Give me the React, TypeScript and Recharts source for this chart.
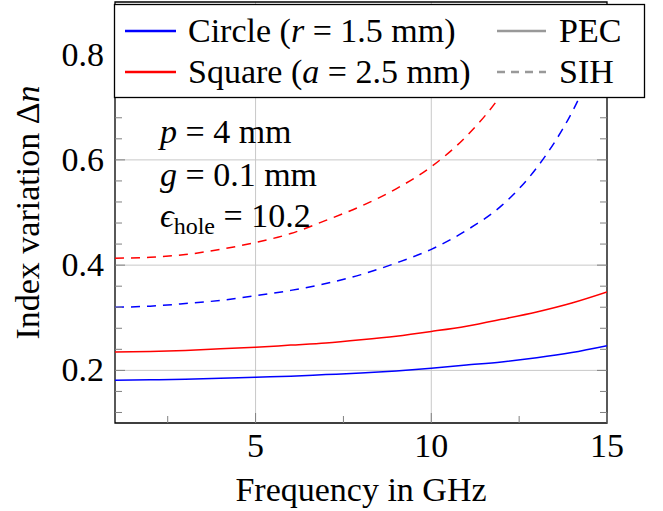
import React from "react";
import {
  CartesianGrid,
  Line,
  LineChart,
  ReferenceArea,
  XAxis,
  YAxis,
} from "recharts";

const freq = [1, 2, 3, 4, 5, 6, 7, 8, 9, 10, 11, 12, 13, 14, 15];
const circlePec = [0.181, 0.182, 0.183, 0.185, 0.187, 0.189, 0.192, 0.195, 0.199, 0.204, 0.21, 0.216, 0.224, 0.234, 0.247];
const squarePec = [0.235, 0.236, 0.238, 0.241, 0.244, 0.248, 0.252, 0.258, 0.265, 0.274, 0.284, 0.297, 0.311, 0.328, 0.349];
const circleSih = [0.32, 0.322, 0.327, 0.333, 0.342, 0.352, 0.365, 0.382, 0.404, 0.43, 0.466, 0.513, 0.585, 0.69, 0.84];
const squareSih = [0.413, 0.415, 0.42, 0.43, 0.443, 0.46, 0.485, 0.512, 0.545, 0.587, 0.645, 0.725, 0.84, null, null];

const xTicks = [2.5, 5, 7.5, 10, 12.5, 15];
const xMajor = [5, 10, 15];
const yTicks = [0.12, 0.16, 0.2, 0.24, 0.28, 0.32, 0.36, 0.4, 0.44, 0.48, 0.52, 0.56, 0.6, 0.64, 0.68, 0.72, 0.76, 0.8, 0.84, 0.88];
const yMajor = [0.2, 0.4, 0.6, 0.8];

const data = freq.map((f, i) => ({
  f,
  circlePec: circlePec[i],
  squarePec: squarePec[i],
  circleSih: circleSih[i],
  squareSih: squareSih[i],
}));

const W = 663;
const H = 511;
const PLOT_L = 115;
const PLOT_R = 607;
const PLOT_T = 2;
const PLOT_B = 423;
const FS = 34;
const TICK_GRAY = "#808080";
const CSS =
  'body{margin:0} #chartroot, #chartroot text, #chartroot tspan { font-family: "Liberation Serif", serif !important; }';

const isMajor = (v: number, list: number[]) => list.some((m) => Math.abs(m - v) < 1e-6);

function T(props: any) {
  const { style, ...rest } = props;
  return <text {...rest} style={{ fontFamily: '"Liberation Serif"', fontSize: FS, fill: "#000", ...style }} />;
}

function XTick(props: any) {
  const { x, y, payload } = props;
  const major = isMajor(payload.value, xMajor);
  const len = major ? 10 : 7;
  return (
    <g>
      <line x1={x} y1={y} x2={x} y2={y - len} stroke={TICK_GRAY} strokeWidth={1} />
      {major && (
        <T x={x} y={y + 34} textAnchor="middle">
          {payload.value}
        </T>
      )}
    </g>
  );
}

function YTick(props: any) {
  const { x, y, payload } = props;
  const major = isMajor(payload.value, yMajor);
  const len = major ? 10 : 7;
  const right = x + (PLOT_R - PLOT_L);
  return (
    <g>
      <line x1={x} y1={y} x2={x + len} y2={y} stroke={TICK_GRAY} strokeWidth={1} />
      <line x1={right} y1={y} x2={right - len} y2={y} stroke={TICK_GRAY} strokeWidth={1} />
      {major && (
        <T x={x - 11} y={y + 11} textAnchor="end">
          {payload.value.toFixed(1)}
        </T>
      )}
    </g>
  );
}

function XLabel(props: any) {
  const { viewBox } = props;
  return (
    <T x={viewBox.x + viewBox.width / 2} y={501} textAnchor="middle">
      Frequency in GHz
    </T>
  );
}

function YLabel(props: any) {
  const { viewBox } = props;
  const cy = viewBox.y + viewBox.height / 2;
  const cx = 39;
  return (
    <T x={cx} y={cy} transform={`rotate(-90 ${cx} ${cy})`} textAnchor="middle">
      Index variation Δ<tspan fontStyle="italic">n</tspan>
    </T>
  );
}

function Overlay() {
  return (
    <svg width={W} height={H} style={{ position: "absolute", left: 0, top: 0, pointerEvents: "none" }}>
      <rect x={114.5} y={4.5} width={530} height={93} fill="#fff" stroke="#000" strokeWidth={1.3} />
      <line x1={125} y1={31} x2={176} y2={31} stroke="#0000ff" strokeWidth={2.5} />
      <T x={188} y={42}>
        Circle (<tspan fontStyle="italic">r</tspan> = 1.5 mm)
      </T>
      <line x1={497} y1={31} x2={546} y2={31} stroke="#999" strokeWidth={2.5} />
      <T x={559} y={42}>PEC</T>
      <line x1={125} y1={72} x2={176} y2={72} stroke="#ff0000" strokeWidth={2.5} />
      <T x={188} y={83}>
        Square (<tspan fontStyle="italic">a</tspan> = 2.5 mm)
      </T>
      <line x1={497} y1={72} x2={546} y2={72} stroke="#999" strokeWidth={2.5} strokeDasharray="8 6" />
      <T x={559} y={83}>SIH</T>

      <T x={160} y={143}>
        <tspan fontStyle="italic">p</tspan> = 4 mm
      </T>
      <T x={160} y={186}>
        <tspan fontStyle="italic">g</tspan> = 0.1 mm
      </T>
      <T x={160} y={227}>
        <tspan fontStyle="italic">ϵ</tspan>
        <tspan fontSize={24} dy={7}>hole</tspan>
        <tspan dy={-7}> = 10.2</tspan>
      </T>
    </svg>
  );
}

export default function App() {
  return (
    <div id="chartroot" style={{ position: "relative", width: W, height: H, background: "#fff", fontFamily: '"Liberation Serif"' }}>
      <style>{CSS}</style>
      <LineChart
        width={W}
        height={H}
        data={data}
        margin={{ top: PLOT_T, right: W - PLOT_R, bottom: 0, left: 0 }}
      >
        <CartesianGrid stroke="#c8c8c8" strokeWidth={1} horizontalValues={yMajor} verticalValues={[5, 10]} />
        <XAxis
          dataKey="f"
          type="number"
          domain={[1, 15]}
          ticks={xTicks}
          interval={0}
          allowDataOverflow
          height={H - PLOT_B}
          tickSize={0}
          tickMargin={0}
          tickLine={false}
          axisLine={false}
          tick={<XTick />}
          label={<XLabel />}
        />
        <YAxis
          type="number"
          domain={[0.1, 0.9]}
          ticks={yTicks}
          interval={0}
          allowDataOverflow
          width={PLOT_L}
          tickSize={0}
          tickMargin={0}
          tickLine={false}
          axisLine={false}
          tick={<YTick />}
          label={<YLabel />}
        />
        <Line type="monotone" dataKey="circlePec" stroke="#0000ff" strokeWidth={1.5} dot={false} isAnimationActive={false} />
        <Line type="monotone" dataKey="squarePec" stroke="#ff0000" strokeWidth={1.5} dot={false} isAnimationActive={false} />
        <Line type="monotone" dataKey="circleSih" stroke="#0000ff" strokeWidth={1.5} strokeDasharray="9 7" dot={false} isAnimationActive={false} />
        <Line type="monotone" dataKey="squareSih" stroke="#ff0000" strokeWidth={1.5} strokeDasharray="9 7" dot={false} isAnimationActive={false} />
        <ReferenceArea x1={1} x2={15} y1={0.1} y2={0.9} fill="none" stroke="#000" strokeWidth={1.3} />
      </LineChart>
      <Overlay />
    </div>
  );
}
